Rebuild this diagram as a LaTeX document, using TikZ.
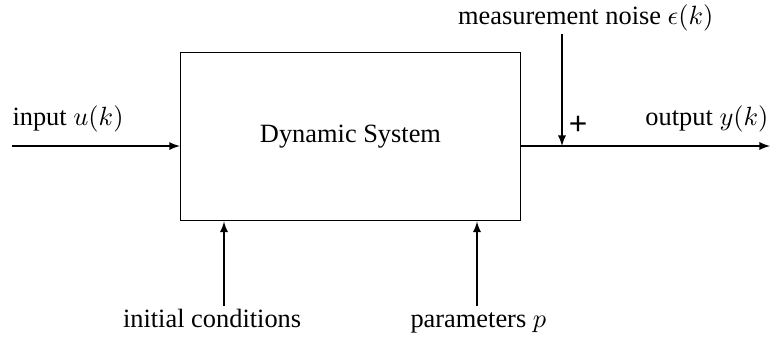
\documentclass[tikz,border=0pt]{standalone}
\usepackage{fontspec}
\setmainfont{Liberation Serif}
\newfontfamily\plusfont{Liberation Sans}
\usetikzlibrary{arrows, positioning}

\begin{document}
\begin{tikzpicture}[x=0.379pt, y=-0.379pt,
        lbl/.style={inner sep=0pt},
        sig/.style={-latex}]
            \useasboundingbox (0,0) rectangle (770,341);

            \node[draw=black, minimum width=128.9pt, minimum height=64.0pt] (sys) at (350.5,136.5) {Dynamic System};

            % signal end points
            \coordinate (in) at (12,146);
            \coordinate (out) at (770,146);
            \coordinate (noise) at (562,34);
            \coordinate (sum) at (562,146);
            \coordinate (ic) at (224,306);
            \coordinate (par) at (477,306);

            \draw[sig] (in) -- (in -| sys.west);
            \draw[sig] (in -| sys.east) -- (out);
            \draw[sig] (noise) -- (sum);
            \draw[sig] (ic) -- (ic |- sys.south);
            \draw[sig] (par) -- (par |- sys.south);

            % labels
            \node[lbl, anchor=base west] (inlbl) at (12,125) {input $u(k)$};
            \node[lbl, anchor=base east] (outlbl) at (769,125) {output $y(k)$};
            \node[lbl, anchor=base east] (noiselbl) at (714,24) {measurement noise $\epsilon(k)$};
            \node[lbl] (plus) at (578,125.5) {\plusfont\large +};
            \node[lbl, anchor=base west] (iclbl) at (122.5,327) {initial conditions};
            \node[lbl, anchor=base west] (parlbl) at (410,327) {parameters $p$};
        \end{tikzpicture}
\end{document}
